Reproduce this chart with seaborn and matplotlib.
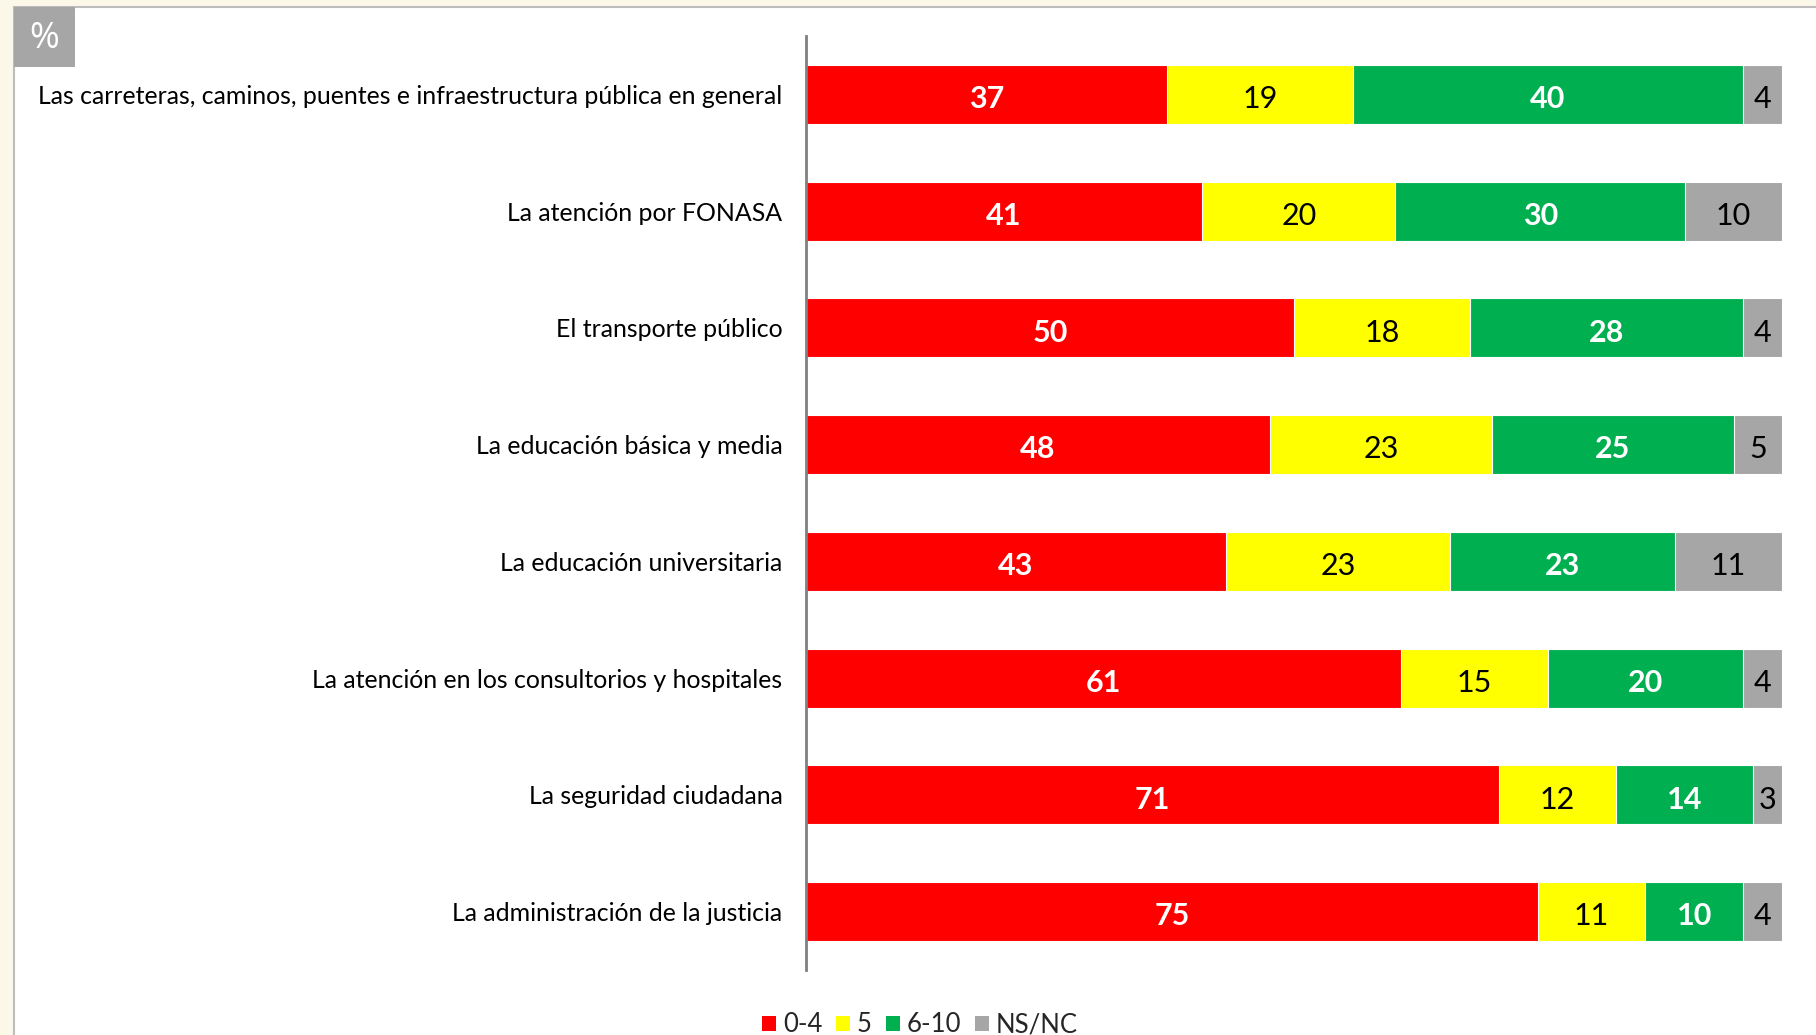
import matplotlib
matplotlib.use("Agg")
import matplotlib.pyplot as plt
from matplotlib.patches import Rectangle, Patch
import numpy as np
import pandas as pd
import seaborn as sns

# ---------------------------------------------------------------------------
# data (percent)
# ---------------------------------------------------------------------------
categories = [
    "Las carreteras, caminos, puentes e infraestructura pública en general",
    "La atención por FONASA",
    "El transporte público",
    "La educación básica y media",
    "La educación universitaria",
    "La atención en los consultorios y hospitales",
    "La seguridad ciudadana",
    "La administración de la justicia",
]
bad = [37, 41, 50, 48, 43, 61, 71, 75]        # 0-4
mid = [19, 20, 18, 23, 23, 15, 12, 11]        # 5
good = [40, 30, 28, 25, 23, 20, 14, 10]       # 6-10
nsnc = [4, 10, 4, 5, 11, 4, 3, 4]             # NS/NC

series_names = ["0-4", "5", "6-10", "NS/NC"]
colors = ["#FF0000", "#FFFF00", "#00B050", "#A6A6A6"]
label_colors = ["white", "black", "white", "black"]
label_weights = ["bold", "normal", "bold", "normal"]

sns.set_theme(style="white")
plt.rcParams["font.family"] = ["Lato", "DejaVu Sans"]

df = pd.DataFrame({"cat": categories, "0-4": bad, "5": mid, "6-10": good, "NS/NC": nsnc})
vals = df[series_names].to_numpy(dtype=float)
# 100% stacked like the original
vals = vals / vals.sum(axis=1, keepdims=True) * 100
cum = np.cumsum(vals, axis=1)

fig = plt.figure(figsize=(18.16, 10.35), dpi=100, facecolor="#FBF8EA")

# white panel with a thin grey border on left/top
fig.patches.append(Rectangle((14 / 1816, -0.01), 1, 1 - 7 / 1035 + 0.01,
                             transform=fig.transFigure, facecolor="white",
                             edgecolor="#BDBDBD", linewidth=1.5, zorder=-10))
# "%" box
fig.patches.append(Rectangle((14 / 1816, 1 - 67 / 1035), 61 / 1816, 60 / 1035,
                             transform=fig.transFigure, facecolor="#A6A6A6",
                             edgecolor="none", zorder=-5))
fig.text(44 / 1816, 1 - 39 / 1035, "%", color="white", fontsize=26,
         ha="center", va="center", family="Open Sans")

ax = fig.add_axes([806 / 1816, 1 - 970 / 1035, (1782 - 806) / 1816, (970 - 36) / 1035])
ax.set_facecolor("none")

# overlapping cumulative bars, drawn from the total down
for i in range(3, -1, -1):
    sns.barplot(x=cum[:, i], y=df["cat"], color=colors[i], orient="h",
                width=0.505, ax=ax, edgecolor="white", linewidth=0.8,
                saturation=1)

for r in range(len(categories)):
    for i in range(4):
        start = cum[r, i] - vals[r, i]
        ax.text(start + vals[r, i] / 2, r + 0.02, str(df[series_names[i]][r]),
                ha="center", va="center_baseline", fontsize=22,
                color=label_colors[i], fontweight=label_weights[i])

ax.set_xlim(0, 100)
ax.set_ylim(7.5, -0.5)
ax.set_xlabel("")
ax.set_ylabel("")
ax.set_xticks([])
ax.tick_params(axis="y", length=0, pad=17, labelsize=17.9, labelcolor="black")
for s in ["top", "right", "bottom"]:
    ax.spines[s].set_visible(False)
ax.spines["left"].set_color("#808080")
ax.spines["left"].set_linewidth(2)

handles = [Patch(facecolor=c, edgecolor="none") for c in colors]
fig.legend(handles, series_names, loc="center", bbox_to_anchor=(920 / 1816, 1 - 1025 / 1035),
           ncol=4, frameon=False, fontsize=18.5, handlelength=0.55, handleheight=0.55,
           handletextpad=0.25, columnspacing=0.55)

fig.savefig("out.png", dpi=100, facecolor=fig.get_facecolor())
